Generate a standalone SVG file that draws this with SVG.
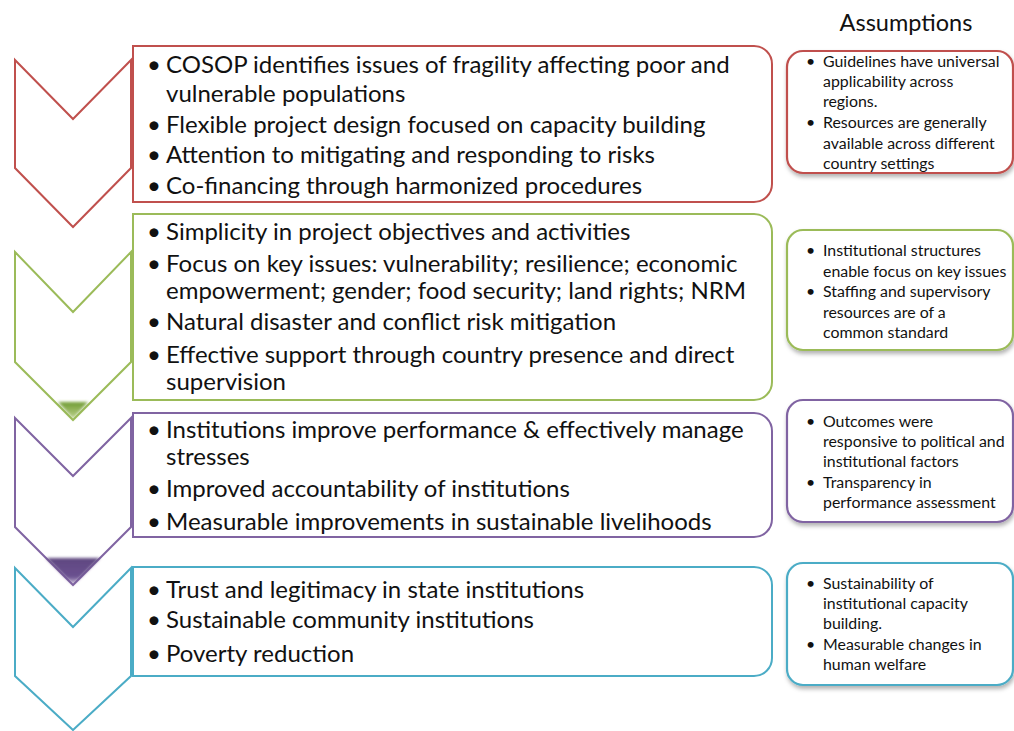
<svg xmlns="http://www.w3.org/2000/svg" width="1014" height="731" viewBox="0 0 1014 731">
<style>
.main{font-family:Lato,"Liberation Sans",sans-serif;font-size:24px;fill:#111}
.asm{font-family:Lato,"Liberation Sans",sans-serif;font-size:15.9px;fill:#111}
.title{font-family:Lato,"Liberation Sans",sans-serif;font-size:23.5px;fill:#111}
.chev{fill:#fff;stroke-width:2}
.box{fill:#fff;stroke-width:2}
.abox{fill:#fff;stroke-width:2.2;filter:url(#sh)}
.red{stroke:#C0504D}.green{stroke:#9BBB59}.purple{stroke:#8064A2}.cyan{stroke:#4BACC6}
</style>
<defs>
<filter id="sh" x="-10%" y="-10%" width="130%" height="140%">
<feDropShadow dx="1" dy="3" stdDeviation="2" flood-color="#000" flood-opacity="0.3"/>
</filter>
<filter id="bl" x="-20%" y="-20%" width="140%" height="140%"><feGaussianBlur stdDeviation="1.5"/></filter>
<linearGradient id="gG" x1="0" y1="0" x2="0" y2="1"><stop offset="0" stop-color="#6E9A30"/><stop offset="1" stop-color="#9BBB59" stop-opacity="0.7"/></linearGradient>
<linearGradient id="gP" x1="0" y1="0" x2="0" y2="1"><stop offset="0" stop-color="#5F4880"/><stop offset="0.7" stop-color="#6A5090"/><stop offset="1" stop-color="#8064A2" stop-opacity="0.3"/></linearGradient>
</defs>
<rect width="1014" height="731" fill="#fff"/>

<text class="title" x="906" y="31" text-anchor="middle">Assumptions</text>

<g id="stage1">
<polygon class="chev red" points="15,60 73,119 131,60 131,168 73,227 15,168"/>
<path class="box red" d="M133,46 H754 A18,18 0 0 1 772,64 V184 A18,18 0 0 1 754,202 H133 Z"/>
<text class="main"><tspan x="147" y="73">•</tspan><tspan x="166" y="73">COSOP identifies issues of fragility affecting poor and</tspan><tspan x="166" y="102">vulnerable populations</tspan><tspan x="147" y="133">•</tspan><tspan x="166" y="133">Flexible project design focused on capacity building</tspan><tspan x="147" y="163">•</tspan><tspan x="166" y="163">Attention to mitigating and responding to risks</tspan><tspan x="147" y="194">•</tspan><tspan x="166" y="194">Co-financing through harmonized procedures</tspan></text>
</g>

<g id="stage2">
<polygon class="chev green" points="15,252 73,312 131,252 131,362 73,420 15,362"/>
<polygon points="58,402 88,402 73,419" fill="url(#gG)" filter="url(#bl)"/>
<path class="box green" d="M133,214 H754 A18,18 0 0 1 772,232 V382 A18,18 0 0 1 754,400 H133 Z"/>
<text class="main"><tspan x="147" y="240">•</tspan><tspan x="166" y="240">Simplicity in project objectives and activities</tspan><tspan x="147" y="272">•</tspan><tspan x="166" y="272">Focus on key issues: vulnerability; resilience; economic</tspan><tspan x="166" y="299">empowerment; gender; food security; land rights; NRM</tspan><tspan x="147" y="330">•</tspan><tspan x="166" y="330">Natural disaster and conflict risk mitigation</tspan><tspan x="147" y="363">•</tspan><tspan x="166" y="363">Effective support through country presence and direct</tspan><tspan x="166" y="390">supervision</tspan></text>
</g>

<g id="stage3">
<polygon class="chev purple" points="15,418 73,476 131,418 131,527 73,585 15,527"/>
<polygon points="46,558 100,558 73,585" fill="url(#gP)" filter="url(#bl)"/>
<path class="box purple" d="M133,413 H754 A18,18 0 0 1 772,431 V519 A18,18 0 0 1 754,537 H133 Z"/>
<text class="main"><tspan x="147" y="438">•</tspan><tspan x="166" y="438">Institutions improve performance &amp; effectively manage</tspan><tspan x="166" y="465">stresses</tspan><tspan x="147" y="497">•</tspan><tspan x="166" y="497">Improved accountability of institutions</tspan><tspan x="147" y="530">•</tspan><tspan x="166" y="530">Measurable improvements in sustainable livelihoods</tspan></text>
</g>

<g id="stage4">
<polygon class="chev cyan" points="15,568 73,627 131,568 131,676 73,730 15,676"/>
<path class="box cyan" d="M133,567 H754 A18,18 0 0 1 772,585 V658 A18,18 0 0 1 754,676 H133 Z"/>
<text class="main"><tspan x="147" y="598">•</tspan><tspan x="166" y="598">Trust and legitimacy in state institutions</tspan><tspan x="147" y="628">•</tspan><tspan x="166" y="628">Sustainable community institutions</tspan><tspan x="147" y="662">•</tspan><tspan x="166" y="662">Poverty reduction</tspan></text>
</g>

<g id="assumption1">
<rect class="abox red" x="787" y="51" width="226" height="122" rx="16"/>
<text class="asm"><tspan x="806" y="67">•</tspan><tspan x="823" y="67">Guidelines have universal</tspan><tspan x="823" y="87">applicability across</tspan><tspan x="823" y="107">regions.</tspan><tspan x="806" y="128">•</tspan><tspan x="823" y="128">Resources are generally</tspan><tspan x="823" y="149">available across different</tspan><tspan x="823" y="169">country settings</tspan></text>
</g>

<g id="assumption2">
<rect class="abox green" x="787" y="230" width="226" height="120" rx="16"/>
<text class="asm"><tspan x="806" y="256">•</tspan><tspan x="823" y="256">Institutional structures</tspan><tspan x="823" y="277">enable focus on key issues</tspan><tspan x="806" y="297">•</tspan><tspan x="823" y="297">Staffing and supervisory</tspan><tspan x="823" y="318">resources are of a</tspan><tspan x="823" y="338">common standard</tspan></text>
</g>

<g id="assumption3">
<rect class="abox purple" x="787" y="400" width="226" height="122" rx="16"/>
<text class="asm"><tspan x="806" y="427">•</tspan><tspan x="823" y="427">Outcomes were</tspan><tspan x="823" y="447">responsive to political and</tspan><tspan x="823" y="467">institutional factors</tspan><tspan x="806" y="488">•</tspan><tspan x="823" y="488">Transparency in</tspan><tspan x="823" y="508">performance assessment</tspan></text>
</g>

<g id="assumption4">
<rect class="abox cyan" x="787" y="563" width="226" height="122" rx="16"/>
<text class="asm"><tspan x="806" y="589">•</tspan><tspan x="823" y="589">Sustainability of</tspan><tspan x="823" y="609">institutional capacity</tspan><tspan x="823" y="629">building.</tspan><tspan x="806" y="650">•</tspan><tspan x="823" y="650">Measurable changes in</tspan><tspan x="823" y="670">human welfare</tspan></text>
</g>

<g id="connectors"></g>
</svg>
